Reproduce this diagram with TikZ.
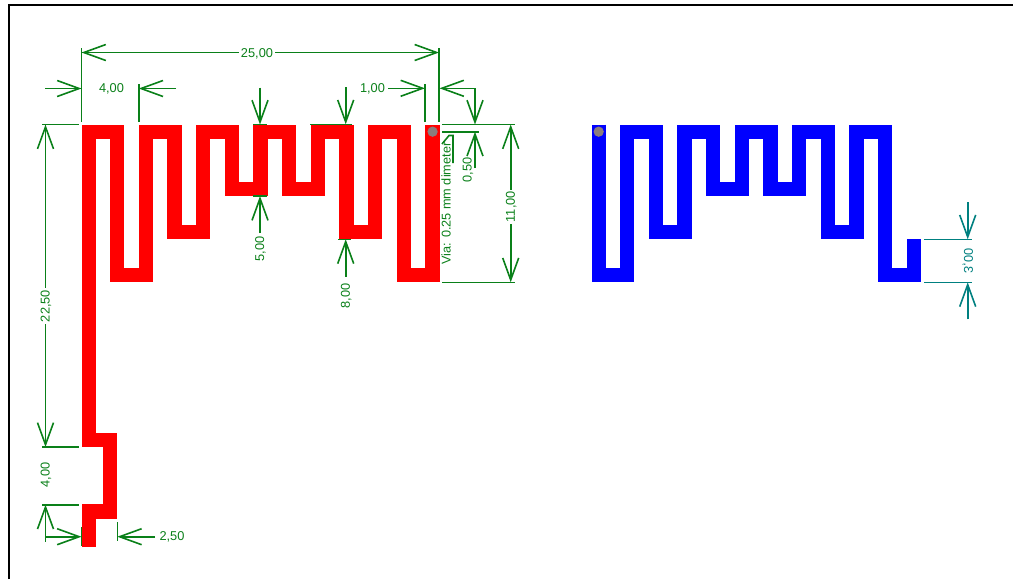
\documentclass[tikz,border=0pt]{standalone}
\usepackage{fontspec}
\usepackage{graphicx}
\setmainfont{Liberation Sans}
\usetikzlibrary{arrows.meta}
\definecolor{dimgreen}{RGB}{10,128,25}
\definecolor{dimteal}{RGB}{0,128,128}
\definecolor{viagrey}{RGB}{140,125,125}
\tikzset{
  x=1pt,y=-1pt,
  tip/.tip={Straight Barb[length=22pt,width=16pt,line width=1.6pt]},
  dim/.style={dimgreen,line width=1.6pt,line cap=butt},
  tealdim/.style={dimteal,line width=1.6pt,line cap=butt},
  dimlabel/.style={text=dimgreen,font=\fontsize{12.8}{13}\selectfont,inner sep=1.5pt,fill=white},
  redtrace/.style={draw=red,line width=14.33pt,line join=miter,miter limit=10},
  bluetrace/.style={draw=blue,line width=14.33pt,line join=miter,miter limit=10},
  viadot/.style={fill=viagrey,draw=none},
}
\begin{document}
\begin{tikzpicture}
\useasboundingbox (0,0) rectangle (1013,579);
% frame
\draw[black,line width=2pt] (9,579) -- (9,5) -- (1013,5);
% red antenna, in mm from its top left corner
\begin{scope}[shift={(81.5,124.5)},x=14.33pt,y=-14.33pt]
\draw[redtrace] (0.5,29.5) -- (0.5,27) -- (2,27) -- (2,22) -- (0.5,22) -- (0.5,0.5) -- (2.5,0.5) -- (2.5,10.5) -- (4.5,10.5) -- (4.5,0.5)
 -- (6.5,0.5) -- (6.5,7.5) -- (8.5,7.5) -- (8.5,0.5) -- (10.5,0.5) -- (10.5,4.5) -- (12.5,4.5) -- (12.5,0.5)
 -- (14.5,0.5) -- (14.5,4.5) -- (16.5,4.5) -- (16.5,0.5) -- (18.5,0.5) -- (18.5,7.5) -- (20.5,7.5) -- (20.5,0.5)
 -- (22.5,0.5) -- (22.5,10.5) -- (24.5,10.5) -- (24.5,0);
\fill[viadot] (24.5,0.5) circle (0.36);
\end{scope}
% blue antenna
\begin{scope}[shift={(591.5,124.5)},x=14.33pt,y=-14.33pt]
\draw[bluetrace] (0.5,0) -- (0.5,10.5) -- (2.5,10.5) -- (2.5,0.5) -- (4.5,0.5) -- (4.5,7.5) -- (6.5,7.5) -- (6.5,0.5)
 -- (8.5,0.5) -- (8.5,4.5) -- (10.5,4.5) -- (10.5,0.5) -- (12.5,0.5) -- (12.5,4.5) -- (14.5,4.5) -- (14.5,0.5)
 -- (16.5,0.5) -- (16.5,7.5) -- (18.5,7.5) -- (18.5,0.5) -- (20.5,0.5) -- (20.5,10.5) -- (22.5,10.5) -- (22.5,8);
\fill[viadot] (0.5,0.5) circle (0.36);
\end{scope}
% extension lines
\draw[dim] (81.5,48) -- (81.5,121.5);
\draw[dim] (439,48) -- (439,121.5);
\draw[dim] (138.7,84) -- (138.7,121.5);
\draw[dim] (425,84) -- (425,121.5);
\draw[dim] (42,124.5) -- (78.7,124.5);
\draw[dim] (42,447) -- (78.7,447);
\draw[dim] (42,504.7) -- (78.7,504.7);
\draw[dim] (81.5,527) -- (81.5,546);
\draw[dim] (117.3,522) -- (117.3,541);
\draw[dim] (442,124.5) -- (515,124.5);
\draw[dim] (442,131.7) -- (479,131.7);
\draw[dim] (442,282.3) -- (515,282.3);
\draw[dim] (253,124.5) -- (267,124.5);
\draw[dim] (253,196) -- (267,196);
\draw[dim] (310,124.3) -- (352,124.3);
\draw[dim] (338,239.3) -- (351,239.3);
\draw[dim] (442,144) -- (449,135.5) -- (453,135.5) -- (453,163);
\draw[tealdim] (924,239.3) -- (972,239.3);
\draw[tealdim] (924,282.3) -- (972,282.3);
% dimension arrows
\draw[dim,{tip}-{tip}] (81.5,52.5) -- (439,52.5);
\node[dimlabel] (d25) at (257,53.5) {25,00};
\draw[dim,-{tip}] (45,88.5) -- (81.5,88.5);
\draw[dim,-{tip}] (176,88.5) -- (138.7,88.5);
\node[dimlabel] (d4a) at (111.5,88.5) {4,00};
\draw[dim,-{tip}] (388,88.3) -- (425,88.3);
\node[dimlabel] (d1) at (372.5,88.5) {1,00};
\draw[dim,-{tip}] (475,88.3) -- (439.5,88.3);
\draw[dim,-{tip}] (475,88.3) -- (475,124.5);
\draw[dim,-{tip}] (475,168) -- (475,131.7);
\node[dimlabel,rotate=90,fill=none] (d05) at (468,170) {0,50};
\draw[dim,-{tip}] (260,87.5) -- (260,124.5);
\draw[dim,-{tip}] (260,233) -- (260,196);
\node[dimlabel,rotate=90] (d5) at (260.5,249) {5,00};
\draw[dim,-{tip}] (345.7,87) -- (345.7,124.3);
\draw[dim,-{tip}] (345.7,276.7) -- (345.7,239.3);
\node[dimlabel,rotate=90] (d8) at (346.2,295.7) {8,00};
\draw[dim,{tip}-{tip}] (510.7,124.5) -- (510.7,282.3);
\node[dimlabel,rotate=90] (d11) at (511.2,206.7) {11,00};
\draw[dim,{tip}-{tip}] (45.5,124.5) -- (45.5,447);
\node[dimlabel,rotate=90] (d225) at (46,306) {22,50};
\node[dimlabel,rotate=90] (d4b) at (46,475) {4,00};
\draw[dim,-{tip}] (45.5,541.7) -- (45.5,504.7);
\draw[dim,-{tip}] (45,536.7) -- (81.5,536.7);
\draw[dim,-{tip}] (155,536.7) -- (117.3,536.7);
\node[dimlabel] (d25b) at (172,536.5) {2,50};
\node[dimlabel,rotate=90,fill=none,font=\fontsize{12.7}{13}\selectfont] (dvia) at (446,203.5) {Via: 0.25 mm dimeter};
\draw[tealdim,-{tip}] (967.7,202.3) -- (967.7,239.3);
\draw[tealdim,-{tip}] (967.7,319.3) -- (967.7,282.3);
\node[dimlabel,text=dimteal,rotate=90] (d3) at (967.7,260.8) {\scalebox{1}[-1]{3,00}};
\end{tikzpicture}
\end{document}
